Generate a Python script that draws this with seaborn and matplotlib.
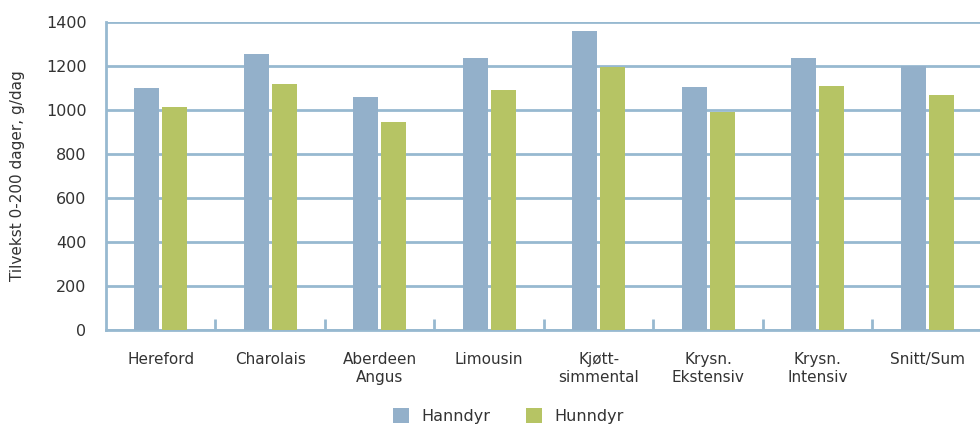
import pandas as pd
import matplotlib.pyplot as plt
import seaborn as sns

# Values
raser = ['Hereford', 'Charolais', 'Aberdeen\nAngus', 'Limousin', 'Kjøtt-\nsimmental',
         'Krysn.\nEkstensiv', 'Krysn.\nIntensiv', 'Snitt/Sum']
hanndyr = [1100, 1255, 1059, 1236, 1359, 1105, 1236, 1200]
hunndyr = [1013, 1118, 945, 1091, 1195, 991, 1109, 1068]
kjonn = ['Hanndyr', 'Hunndyr']
y_ticks = [0, 200, 400, 600, 800, 1000, 1200, 1400]

df = pd.DataFrame({
    'Rase': raser * 2,
    'Kjønn': [kjonn[0]] * len(raser) + [kjonn[1]] * len(raser),
    'Tilvekst': hanndyr + hunndyr,
})

blue = '#93b0ca'
green = '#b6c464'
line_col = '#97b9d0'
text_col = '#333333'

sns.set_style('white')
plt.rcParams['font.family'] = ['DejaVu Sans']

fig = plt.figure(figsize=(9.8, 4.28), dpi=100)
ax = fig.add_axes([0.108, 0.229, 0.894, 0.7196])

sns.barplot(data=df, x='Rase', y='Tilvekst', hue='Kjønn', hue_order=kjonn,
            palette=[blue, green], width=0.51, gap=0.11, saturation=1,
            linewidth=0, edgecolor='none', ax=ax, zorder=3)

ax.set_ylim(0, 1400)
ax.set_xlim(-0.5, len(raser) - 0.5)
ax.set_yticks(y_ticks)
ax.yaxis.grid(True, color=line_col, linewidth=2.0, zorder=0)
ax.set_axisbelow(True)

for side in ['top', 'right']:
    ax.spines[side].set_visible(False)
for side in ['left', 'bottom']:
    ax.spines[side].set_color(line_col)
    ax.spines[side].set_linewidth(2.0)

# category boundaries as small inward ticks
ax.set_xticks([i + 0.5 for i in range(len(raser) - 1)], minor=True)
ax.tick_params(axis='x', which='minor', bottom=True, direction='in', length=8, width=2,
               color=line_col)
ax.tick_params(axis='x', which='major', length=0, pad=16, labelsize=11, labelcolor=text_col)
ax.tick_params(axis='y', length=0, pad=14, labelsize=11.5, labelcolor=text_col)

ax.set_xlabel('')
ax.set_ylabel('Tilvekst 0-200 dager, g/dag', fontsize=11, color=text_col)
ax.yaxis.set_label_coords(-0.0925, 0.5)

handles, labels = ax.get_legend_handles_labels()
ax.get_legend().remove()
fig.legend(handles, labels, loc='center', bbox_to_anchor=(0.519, 0.028), ncol=2,
           frameon=False, fontsize=11.5, handlelength=1.0, handleheight=1.0,
           columnspacing=2.2, handletextpad=0.8, labelcolor=text_col)

fig.savefig('out.png', dpi=100)
